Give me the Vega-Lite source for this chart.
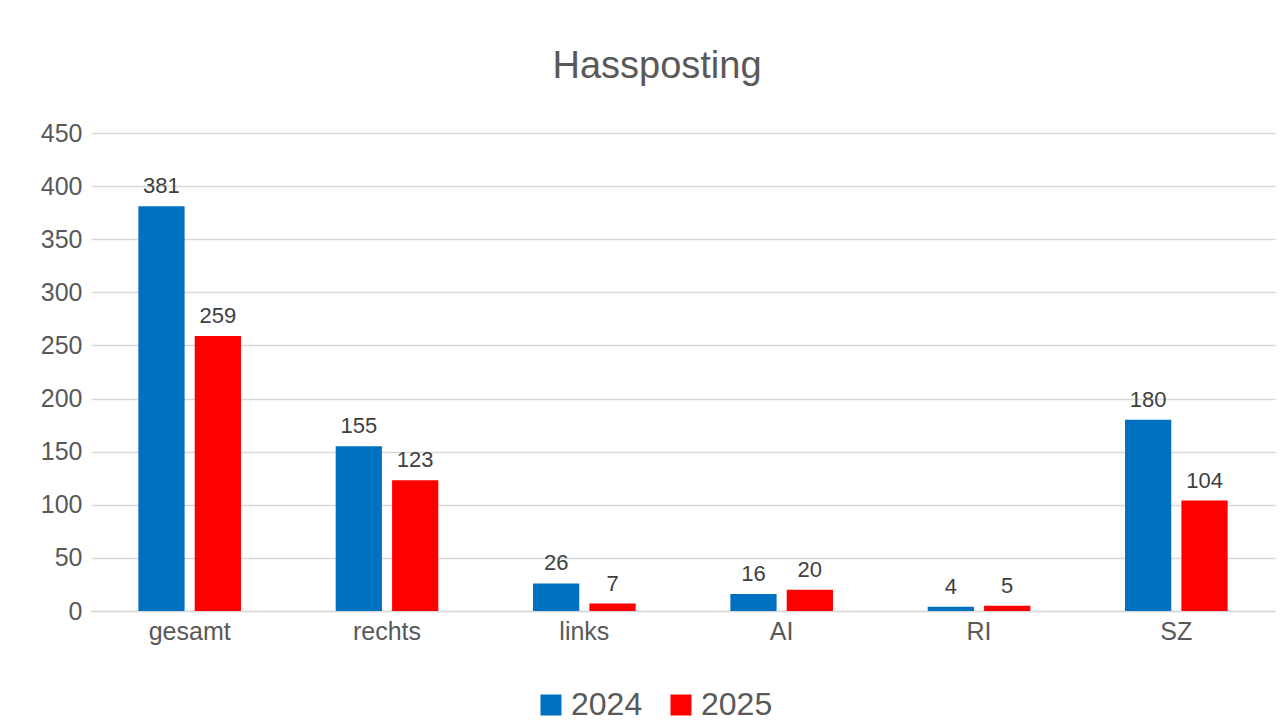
{
  "$schema": "https://vega.github.io/schema/vega-lite/v6.json",
  "width": 1184,
  "height": 478,
  "autosize": {"type": "none"},
  "padding": {"left": 91, "top": 133, "right": 12, "bottom": 114},
  "background": "white",
  "title": {"text": "Hassposting", "font": "Liberation Sans", "fontSize": 38, "fontWeight": "normal", "color": "#595959", "anchor": "middle", "dx": -26, "offset": 35},
  "data": {"values": [
    {"kategorie": "gesamt", "jahr": "2024", "wert": 381},
    {"kategorie": "gesamt", "jahr": "2025", "wert": 259},
    {"kategorie": "rechts", "jahr": "2024", "wert": 155},
    {"kategorie": "rechts", "jahr": "2025", "wert": 123},
    {"kategorie": "links", "jahr": "2024", "wert": 26},
    {"kategorie": "links", "jahr": "2025", "wert": 7},
    {"kategorie": "AI", "jahr": "2024", "wert": 16},
    {"kategorie": "AI", "jahr": "2025", "wert": 20},
    {"kategorie": "RI", "jahr": "2024", "wert": 4},
    {"kategorie": "RI", "jahr": "2025", "wert": 5},
    {"kategorie": "SZ", "jahr": "2024", "wert": 180},
    {"kategorie": "SZ", "jahr": "2025", "wert": 104}
  ]},
  "encoding": {
    "x": {"field": "kategorie", "type": "nominal", "sort": null,
      "scale": {"paddingInner": 0.48, "paddingOuter": 0.24},
      "axis": {"title": null, "labelAngle": 0, "labelFont": "Liberation Sans", "labelFontSize": 25, "labelColor": "#595959", "labelPadding": 8, "ticks": false, "domainColor": "#d9d9d9", "domainWidth": 1.5}},
    "xOffset": {"field": "jahr", "type": "nominal", "scale": {"paddingInner": 0.18, "paddingOuter": 0}},
    "y": {"field": "wert", "type": "quantitative",
      "scale": {"domain": [0, 450], "nice": false},
      "axis": {"title": null, "values": [0,50,100,150,200,250,300,350,400,450], "labelFont": "Liberation Sans", "labelFontSize": 25, "labelColor": "#595959", "labelPadding": 9, "ticks": false, "domain": false, "gridColor": "#d9d9d9", "gridWidth": 1.5}}
  },
  "layer": [
    {"mark": {"type": "bar"},
     "encoding": {"color": {"field": "jahr", "type": "nominal",
        "scale": {"domain": ["2024", "2025"], "range": ["#0070C0", "#FF0000"]},
        "legend": {"title": null, "orient": "none", "legendX": 444, "legendY": 556, "direction": "horizontal", "symbolType": "square", "symbolSize": 441, "symbolStrokeWidth": 0, "labelFont": "Liberation Sans", "labelFontSize": 32, "labelColor": "#595959", "labelOffset": 4, "columnPadding": 22, "symbolOpacity": 1}}}},
    {"mark": {"type": "text", "baseline": "alphabetic", "dy": -13, "font": "Liberation Sans", "fontSize": 22, "color": "#404040"},
     "encoding": {"text": {"field": "wert", "type": "quantitative"}}}
  ],
  "config": {"view": {"stroke": null}}
}
